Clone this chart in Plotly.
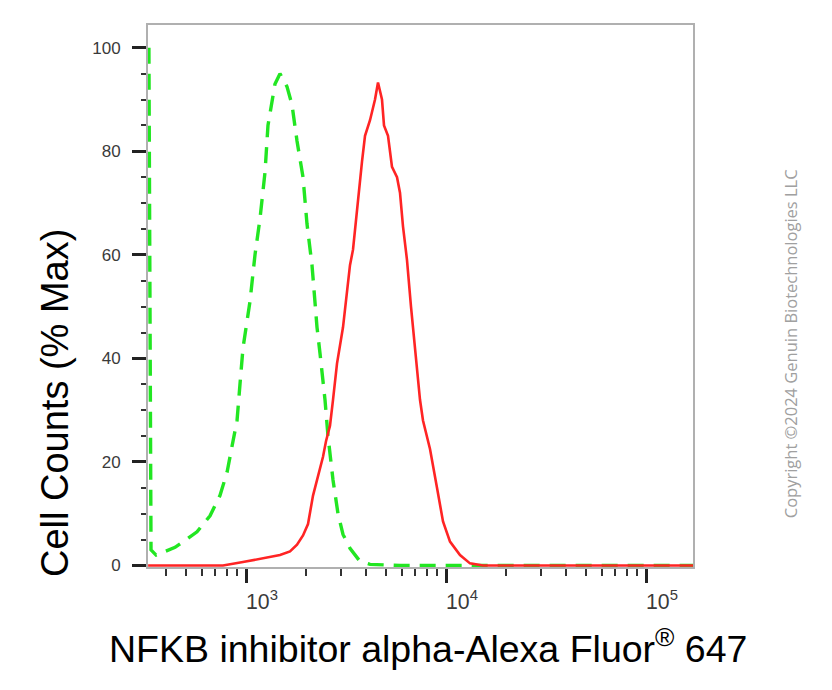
import plotly.graph_objects as go

# ---- data (fluorescence intensity vs % of max) ----
control_x = [327, 335, 355, 442, 569, 661, 741, 804, 861, 902, 933, 966, 1047, 1109,
             1175, 1245, 1288, 1396, 1479, 1603, 1698, 1799, 1928, 2018, 2138, 2265,
             2344, 2483, 2570, 2723, 2884, 3055, 3311, 3715, 4169, 5888, 18620, 175000]
control_y = [100, 3, 2, 3.5, 6.5, 9.6, 13.5, 18, 24, 28, 35, 42, 51, 60,
             67, 76, 85, 93, 95, 92.5, 89, 82, 75, 66, 58, 46,
             41, 32, 25, 16.5, 10, 6, 3.3, 0.8, 0.2, 0, 0, 0]

sample_x = [324, 767, 950, 1084, 1479, 1660, 1799, 1928, 2042, 2163, 2291, 2427, 2512, 2630,
            2723, 2851, 3055, 3199, 3311, 3428, 3589, 3802, 3936, 4169, 4416, 4571,
            4786, 4898, 5129, 5370, 5689, 5888, 6095, 6383, 6683, 6998, 7413, 7674,
            8318, 9016, 9661, 10471, 11749, 13183, 15311, 175000]
sample_y = [0, 0, 0.6, 1, 2, 2.7, 4, 5.8, 8, 13.5, 17, 21, 24, 27,
            32, 39, 46, 53, 58, 61, 69, 78, 83, 86, 90, 93.3,
            90, 85, 83, 77, 75, 72, 65.5, 59, 50, 42, 32, 28,
            22.5, 15, 8.5, 4.6, 2, 0.4, 0, 0]

y_ticks = [0, 20, 40, 60, 80, 100]

x_title = "NFKB inhibitor alpha-Alexa Fluor<sup>®</sup> 647"
y_title = "Cell Counts (% Max)"
copyright_text = "Copyright ©2024 Genuin Biotechnologies LLC"

fig = go.Figure()
fig.add_trace(go.Scatter(x=control_x, y=control_y, mode="lines",
                         line=dict(color="#22e622", width=3.4, dash="16px,10px"),
                         showlegend=False))
fig.add_trace(go.Scatter(x=sample_x, y=sample_y, mode="lines",
                         line=dict(color="#ff2424", width=2.6),
                         showlegend=False))

axis_font = dict(family="Liberation Sans, Arial, sans-serif", size=17, color="#3a3a3a")

fig.update_xaxes(type="log", range=[2.51, 5.235], dtick=1, exponentformat="power",
                 showgrid=False, zeroline=False,
                 showline=True, linecolor="#b0b0b0", linewidth=2, mirror=True,
                 ticks="outside", ticklen=14, tickwidth=3, tickcolor="#222",
                 tickfont=axis_font, ticklabelshift=16, ticklabelstandoff=1,
                 minor=dict(dtick="D1", ticks="outside", ticklen=7, tickwidth=1.5,
                            tickcolor="#333", showgrid=False))
fig.update_yaxes(range=[-0.3, 104.4], tickvals=y_ticks,
                 showgrid=False, zeroline=False,
                 showline=True, linecolor="#b0b0b0", linewidth=2, mirror=True,
                 ticks="outside", ticklen=14, tickwidth=3, tickcolor="#222",
                 tickfont=axis_font, ticklabelstandoff=8,
                 minor=dict(dtick=5, ticks="outside", ticklen=5, tickwidth=1.5,
                            tickcolor="#333", showgrid=False))

fig.update_layout(
    width=832, height=690,
    margin=dict(l=140, r=147, t=17, b=131),
    paper_bgcolor="white", plot_bgcolor="white",
    annotations=[
        dict(text=y_title, xref="paper", yref="paper", x=-0.1706, y=0.3026,
             textangle=-90, showarrow=False, xanchor="center", yanchor="middle",
             font=dict(family="Liberation Sans, Arial, sans-serif", size=38, color="#000")),
        dict(text=x_title, xref="paper", yref="paper", x=0.514, y=-0.146,
             showarrow=False, xanchor="center", yanchor="middle",
             font=dict(family="Liberation Sans, Arial, sans-serif", size=37.5, color="#000")),
        dict(text=copyright_text, xref="paper", yref="paper", x=1.178, y=0.411,
             textangle=-90, showarrow=False, xanchor="center", yanchor="middle",
             font=dict(family="Open Sans, sans-serif", size=16.5, color="#a0a0a0")),
    ],
)

fig.write_html("out.html")
